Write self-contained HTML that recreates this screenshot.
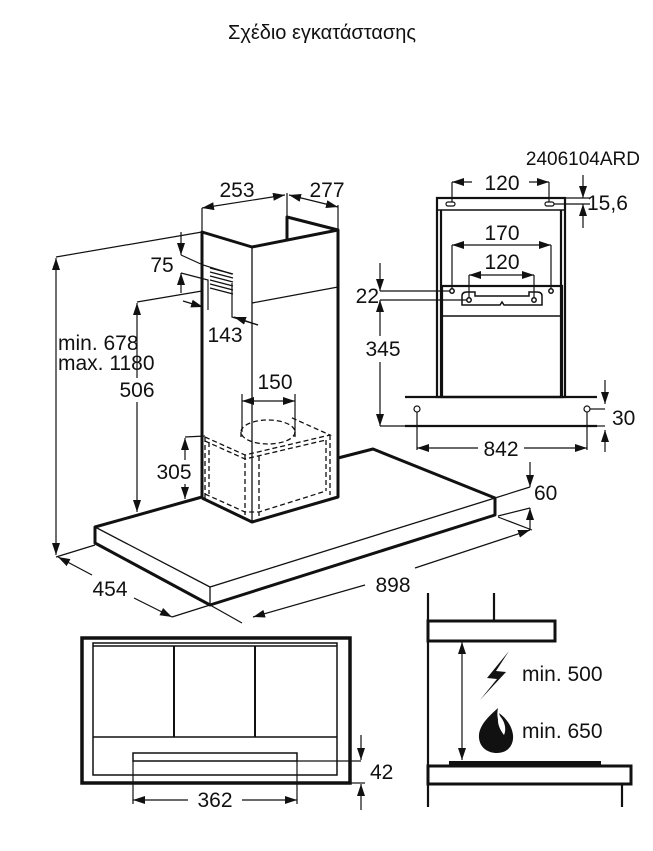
<!DOCTYPE html>
<html><head><meta charset="utf-8"><style>
html,body{margin:0;padding:0;background:#fff;}
svg{display:block;}
text{font-family:"Liberation Sans",Arial,sans-serif;fill:#111;stroke:none;}
</style></head><body>
<svg width="653" height="851" viewBox="0 0 653 851" xmlns="http://www.w3.org/2000/svg">
<defs>
<marker id="a" viewBox="0 0 12 8" refX="12" refY="4" markerWidth="12" markerHeight="8" markerUnits="userSpaceOnUse" orient="auto-start-reverse"><path d="M0,0 L12,4 L0,8 z" fill="#111" stroke="none"/></marker>
</defs>
<text x="322" y="39" font-size="20" text-anchor="middle">Σχέδιο εγκατάστασης</text>

<g fill="none" stroke="#111">
<g stroke-width="3" stroke-linejoin="round">
<polyline points="202,497 95,527 95,543 210,605 495,515 495,498 373,449 338,458"/>
</g>
<g stroke-width="1.3">
<polyline points="95,527 210,587 495,498"/>
<line x1="210" y1="587" x2="210" y2="605"/>
</g>
<g stroke-width="3" stroke-linejoin="round">
<polyline points="202,498 202,232 252,247 338,230 287,217 287,240"/>
<polyline points="202,498 252,522 338,497 338,230"/>
</g>
<g stroke-width="1.3">
<line x1="252" y1="247" x2="252" y2="522"/>
<polyline points="252,303 338,287"/>
<path d="M210,268 L233,274 M210,272 L233,278 M210,276 L233,282 M210,280 L233,286 M210,284 L233,290 M210,288 L233,294"/>
<g stroke-dasharray="5,3">
<polyline points="205,437 245,455 330,435 290,417"/>
<polyline points="205,441 245,459 326,440"/>
<line x1="205" y1="437" x2="205" y2="498"/>
<line x1="209" y1="442" x2="209" y2="494"/>
<line x1="245" y1="455" x2="245" y2="515"/>
<line x1="259" y1="456" x2="259" y2="516"/>
<line x1="330" y1="435" x2="330" y2="495"/>
<line x1="326" y1="440" x2="326" y2="491"/>
<polyline points="205,494 245,512 259,512 326,491"/>
<ellipse cx="268" cy="432" rx="27" ry="12"/>
<path d="M241,432 L241,440 M295,432 L295,440"/>
</g>
</g>
<g stroke-width="1.2">
<line x1="202" y1="208" x2="202" y2="232"/>
<line x1="287" y1="193" x2="287" y2="217"/>
<line x1="338" y1="205" x2="338" y2="230"/>
<line x1="202" y1="208" x2="285" y2="195" marker-start="url(#a)" marker-end="url(#a)"/>
<line x1="289" y1="195" x2="338" y2="207" marker-start="url(#a)" marker-end="url(#a)"/>
<line x1="56" y1="257" x2="202" y2="232"/>
<line x1="56" y1="557" x2="95" y2="545"/>
<line x1="56" y1="258" x2="56" y2="555" marker-start="url(#a)" marker-end="url(#a)"/>
<polyline points="181,255 203,265 232,274"/>
<polyline points="181,273 208,280 208,310"/>
<line x1="181" y1="232" x2="181" y2="255" marker-end="url(#a)"/>
<line x1="181" y1="293" x2="181" y2="273" marker-end="url(#a)"/>
<line x1="183" y1="301" x2="203" y2="307" marker-end="url(#a)"/>
<polyline points="232,283 232,317 258,325"/>
<line x1="258" y1="325" x2="234" y2="317" marker-end="url(#a)"/>
<line x1="137" y1="302" x2="202" y2="291"/>
<line x1="137" y1="303" x2="137" y2="512" marker-start="url(#a)" marker-end="url(#a)"/>
<line x1="185" y1="437" x2="205" y2="436"/>
<line x1="185" y1="438" x2="185" y2="499" marker-start="url(#a)" marker-end="url(#a)"/>
<line x1="242" y1="394" x2="242" y2="432"/>
<line x1="295" y1="394" x2="295" y2="432"/>
<line x1="242" y1="401" x2="295" y2="401" marker-start="url(#a)" marker-end="url(#a)"/>
<line x1="495" y1="498" x2="530" y2="487"/>
<line x1="498" y1="517" x2="532" y2="530"/>
<line x1="498" y1="516" x2="530" y2="508"/>
<line x1="530" y1="462" x2="530" y2="487" marker-end="url(#a)"/>
<line x1="530" y1="530" x2="530" y2="508" marker-end="url(#a)"/>
<line x1="210" y1="605" x2="242" y2="623"/>
<line x1="253" y1="617" x2="365" y2="585" marker-start="url(#a)"/>
<line x1="415" y1="568" x2="530" y2="530" marker-end="url(#a)"/>
<line x1="172" y1="617" x2="210" y2="605"/>
<line x1="58" y1="557" x2="92" y2="575" marker-start="url(#a)"/>
<line x1="134" y1="598" x2="172" y2="617" marker-end="url(#a)"/>
</g>

<g stroke-width="2.2">
<rect x="437" y="198" width="128" height="199"/>
<line x1="441" y1="210" x2="441" y2="397"/>
<line x1="561" y1="210" x2="561" y2="397"/>
<rect x="442" y="286" width="120" height="111"/>
<line x1="405" y1="397" x2="597" y2="397"/>
<line x1="405" y1="426" x2="597" y2="426"/>
</g>
<line x1="437" y1="210" x2="565" y2="210" stroke-width="1.5"/>
<line x1="442" y1="316" x2="562" y2="316" stroke-width="1.5"/>
<path d="M462,305 L462,296 Q462,292 467,292 L475,292 L475,296 L529,296 L529,292 L537,292 Q542,292 542,296 L542,305 L504,305 L502,302 L500,305 Z" stroke-width="1.5"/>
<rect x="446" y="202" width="9" height="4" rx="2" stroke-width="1.2"/>
<rect x="545" y="202" width="9" height="4" rx="2" stroke-width="1.2"/>
<circle cx="452" cy="291" r="2.2" stroke-width="1.5"/>
<circle cx="551" cy="291" r="2.2" stroke-width="1.5"/>
<circle cx="469" cy="300" r="2.2" stroke-width="1.5"/>
<circle cx="534" cy="300" r="2.2" stroke-width="1.5"/>
<circle cx="417" cy="409" r="3" stroke-width="1.2"/>
<circle cx="587" cy="409" r="3" stroke-width="1.2"/>
<g stroke-width="1.2">
<line x1="452" y1="182" x2="452" y2="202"/>
<line x1="549" y1="182" x2="549" y2="202"/>
<line x1="472" y1="182" x2="452" y2="182" marker-end="url(#a)"/>
<line x1="529" y1="182" x2="549" y2="182" marker-end="url(#a)"/>
<line x1="565" y1="198" x2="590" y2="198"/>
<line x1="554" y1="204" x2="590" y2="204"/>
<line x1="583" y1="175" x2="583" y2="198" marker-end="url(#a)"/>
<line x1="583" y1="228" x2="583" y2="204" marker-end="url(#a)"/>
<line x1="452" y1="245" x2="452" y2="289"/>
<line x1="551" y1="245" x2="551" y2="289"/>
<line x1="452" y1="245" x2="551" y2="245" marker-start="url(#a)" marker-end="url(#a)"/>
<line x1="469" y1="275" x2="469" y2="298"/>
<line x1="534" y1="275" x2="534" y2="298"/>
<line x1="469" y1="275" x2="534" y2="275" marker-start="url(#a)" marker-end="url(#a)"/>
<line x1="380" y1="291" x2="450" y2="291"/>
<line x1="380" y1="300" x2="467" y2="300"/>
<line x1="380" y1="426" x2="405" y2="426"/>
<line x1="380" y1="263" x2="380" y2="291" marker-end="url(#a)"/>
<line x1="380" y1="300" x2="380" y2="336" marker-start="url(#a)"/>
<line x1="380" y1="362" x2="380" y2="426" marker-end="url(#a)"/>
<line x1="590" y1="409" x2="605" y2="409"/>
<line x1="597" y1="426" x2="605" y2="426"/>
<line x1="605" y1="380" x2="605" y2="404" marker-end="url(#a)"/>
<line x1="605" y1="452" x2="605" y2="430" marker-end="url(#a)"/>
<line x1="417" y1="412" x2="417" y2="450"/>
<line x1="587" y1="412" x2="587" y2="450"/>
<line x1="417" y1="448" x2="478" y2="448" marker-start="url(#a)"/>
<line x1="524" y1="448" x2="587" y2="448" marker-end="url(#a)"/>
</g>

<rect x="82" y="638" width="268" height="145" stroke-width="3.5"/>
<g stroke-width="1.5">
<rect x="93" y="643" width="244" height="132"/>
<line x1="93" y1="646" x2="337" y2="646"/>
<line x1="93" y1="737" x2="337" y2="737"/>
<line x1="174" y1="646" x2="174" y2="737" stroke-width="2"/>
<line x1="255" y1="646" x2="255" y2="737" stroke-width="2"/>
<rect x="133" y="753" width="164" height="8"/>
</g>
<g stroke-width="1.2">
<line x1="297" y1="761" x2="361" y2="761"/>
<line x1="350" y1="783" x2="365" y2="783"/>
<line x1="361" y1="735" x2="361" y2="760" marker-end="url(#a)"/>
<line x1="361" y1="810" x2="361" y2="784" marker-end="url(#a)"/>
<line x1="133" y1="761" x2="133" y2="804"/>
<line x1="297" y1="761" x2="297" y2="804"/>
<line x1="133" y1="800" x2="188" y2="800" marker-start="url(#a)"/>
<line x1="242" y1="800" x2="297" y2="800" marker-end="url(#a)"/>
</g>

<g stroke-width="2.2">
<line x1="428" y1="593" x2="428" y2="807"/>
<line x1="494" y1="593" x2="494" y2="622"/>
<rect x="428" y="621" width="127" height="20" stroke-width="3"/>
<rect x="428" y="766" width="203" height="18" stroke-width="3"/>
<line x1="622" y1="784" x2="622" y2="807"/>
</g>
<rect x="449" y="761" width="152" height="5" fill="#111" stroke="none"/>
<line x1="462" y1="642" x2="462" y2="760" stroke-width="1.2" marker-start="url(#a)" marker-end="url(#a)"/>
</g>
<path d="M509,651 L487,678 L497,679 L480,700 L506,672 L496,671 Z" fill="#111"/>
<path d="M498,708 C489,716 478,726 479,738 C480,748 488,753 497,753 C507,753 514,746 513,735 C512,726 506,718 499,713 C501,720 505,726 503,732 C499,726 496,716 498,708 Z" fill="#111"/>
<path d="M499,715 C496,722 500,730 504,735 C507,728 504,720 499,715 Z" fill="#fff"/>

<g font-size="21">
<text x="237" y="197" text-anchor="middle">253</text>
<text x="327" y="197" text-anchor="middle">277</text>
<text x="58" y="350">min. 678</text>
<text x="58" y="370">max. 1180</text>
<text x="162" y="272" text-anchor="middle">75</text>
<text x="225" y="342" text-anchor="middle">143</text>
<rect x="115" y="378" width="44" height="24" fill="#fff"/>
<text x="137" y="397" text-anchor="middle">506</text>
<rect x="153" y="460" width="42" height="24" fill="#fff"/>
<text x="174" y="479" text-anchor="middle">305</text>
<text x="275" y="389" text-anchor="middle">150</text>
<text x="534" y="500">60</text>
<text x="393" y="592" text-anchor="middle">898</text>
<text x="110" y="596" text-anchor="middle">454</text>
<text x="640" y="165" font-size="19" text-anchor="end">2406104ARD</text>
<text x="502" y="190" text-anchor="middle">120</text>
<text x="587" y="210">15,6</text>
<text x="502" y="240" text-anchor="middle">170</text>
<text x="502" y="269" text-anchor="middle">120</text>
<text x="379" y="303" text-anchor="end">22</text>
<text x="383" y="356" text-anchor="middle">345</text>
<text x="612" y="425">30</text>
<text x="501" y="456" text-anchor="middle">842</text>
<text x="370" y="779">42</text>
<text x="215" y="807" text-anchor="middle">362</text>
<text x="522" y="681">min. 500</text>
<text x="522" y="738">min. 650</text>
</g>
</svg>
</body></html>
